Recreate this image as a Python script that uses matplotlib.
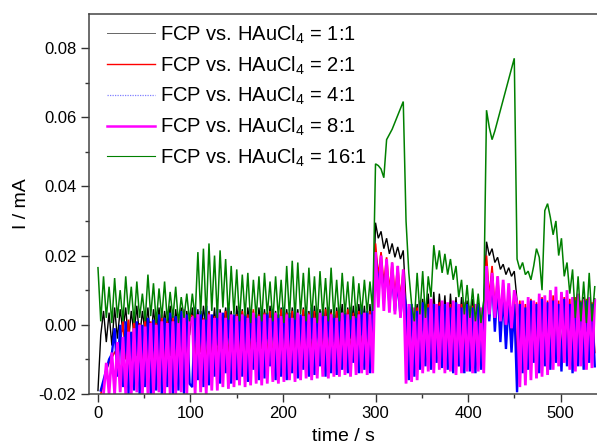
import numpy as np
import matplotlib
matplotlib.use("Agg")
import matplotlib.pyplot as plt

plt.rcParams['font.family'] = ['Liberation Sans', 'DejaVu Sans']
plt.rcParams['mathtext.fontset'] = 'custom'
plt.rcParams['mathtext.rm'] = 'Liberation Sans'
plt.rcParams['mathtext.it'] = 'Liberation Sans:italic'

# sample times (s), one reading every 3 s
time_s = np.arange(0, 540, 3)

# currents, in units of 1e-3 mA
nan = np.nan
ratio_1_1 = [
    -19, -3, 4, -5, 3.5, -6, 5, -4, 4.5, -2, 5, -5, 4, -3, 5.5, -4, 4, -2.5, 5, -5,
    4.5, -3, 5, -4, 4, -2, 5.5, -4.5, 4.5, -3, 5, -4, 4, -3,
    5, -3, 4.5, -5, 5.5, -2, 4, -4, 5, -6, 4.5, -3, 5, -2, 4, -5, 5.5, -3, 4.5, -4,
    5, -2.5, 4, -5, 5, -3, 4.5, -4, 5.5, -2, 4, -5, 5, -3, 4.5, -4, 5, -2, 4.5, -6,
    5, -3, 4, -4, 5.5, -2.5, 4.5, -4, 5, -3, 4.5, -5, 5, -2, 6, -3, 5, -4, 5.5, -2,
    6, -3, 5.5, -5, 6, -2,
    29.5, 25, 27, 22, 25, 20.5, 23.5, 19.5, 22.5, 19, 21.5,
    6, -3, 5, -2, 6, -4, 7.5, -1, 9, -2, 9.5, -3, 9, -1, 8.5, -4, 9, -2, 8, -3,
    8, -1, 7, -3, 7.5, -2, 6.5, -4, 6,
    24, 20, 22, 18, 19.5, 16, 17.5, 14.5, 16.5, 14, 15.5,
    7, -2, 6.5, -3, 7.5, -1, 6, -4, 8, -2, 7.5, -3, 8.5, -1, 8, -4, 9, -2, 8.5, -3,
    8, -1, 7.5, -4, 8, -2, 7, -3, 7.5,
]
ratio_2_1 = [
    nan, -20, -17, -13, -11, -9.5, -8, -7, -6, 1, -10, 1.5, -12, 2, -9, 0.5, -13, 2.5, -10, 1,
    -14, 2, -11, 3, -12, 1.5, -9, 2.5, -13, 3, -9, 2, -12, 3,
    2.5, -10, 3, -8, 2, -12, 3.5, -9, 2.5, -11, 3, -7, 4, -10, 2.5, -12, 3, -8, 4, -11,
    3, -9, 4.5, -12, 3, -7, 3.5, -10, 4, -11, 3, -8, 4.5, -12, 3.5, -9, 4, -10, 3, -7,
    4.5, -11, 3.5, -9, 4, -12, 3, -8, 4.5, -10, 3.5, -11, 4, -7, 3, -10, 4.5, -9, 3.5, -12,
    4, -8, 3, -10, 4, -9,
    23.5, 14, 21, 12, 19.5, 10, 18, 9, 17, 8, 16,
    2, -12, 4, -9, 5, -11, 5.5, -8, 6, -10, 5, -6, 6.5, -11, 5, -7, 6, -9, 5.5, -12,
    6, -8, 5, -10, 5.5, -9, 4.5, -11, 5,
    20, 8, 17, 5, 14, 2, 12, 0, 10.5, -2, 9,
    -12, 7, -9, 6, -11, 7.5, -8, 6.5, -10, 8, -7, 7, -11, 8.5, -9, 7, -10, 8, -6, 7.5,
    -11, 8, -8, 7, -10, 7.5, -9, 6.5, -8,
]
ratio_4_1 = [
    nan, -19, -16, -13, -10, -8.5, -1, -15, 0, -18, 1, -20, -2, -19, 1, -20, 0, -18, 2, -20,
    1.5, -19, 3, -20, 2, -18, 3.5, -20, 2.5, -19, 4, -20, 3, -17,
    -18, 5, -16, 4, -18, 5.5, -17.5, 3, -15, 4.5, -17, 3.5, -14, 5, -17, 3, -16, 4, -15, 3,
    -16.5, 4.5, -13, 3, -16, 4, -15.5, 3.5, -12, 4.5, -16, 3, -15, 5, -16, 3.5, -14, 4.5, -15.5, 3,
    -13, 4, -15, 5, -14.5, 3.5, -12, 4, -15, 5, -14, 3, -14.5, 4.5, -13, 3.5, -14, 5, -11, 4,
    -14, 5.5, -13, 4, -14, 5,
    20.5, 11, 18, 8, 16, 6, 14, 4, 12.5, 2.5, 11,
    5, -16, 6, -15, 4, -13, 6.5, -12, 5, -13, 6, -11, 5.5, -12.5, 6, -13, 5, -14, 6.5, -12,
    5, -14, 6, -13.5, 5, -14, 6, -13, 5,
    16, 1, 14, -2, 11, -5, 9, -7, 7, -8, 6,
    -19.5, 6, -14, 5, -13, 7, -11, 6, -14, 7.5, -12, 6.5, -13, 7, -11, 6, -13.5, 7.5, -12, 6,
    -14, 7, -12, 6.5, -13, 7, -11, 6, -12,
]
ratio_8_1 = [
    nan, nan, -20, -11, -20, -8, -20, -5, -19.5, -3.5, -20, -2, -20, -1, -19.5, 0, -20, -0.5, -20, 0.5,
    -20, 0, -19.5, 1, -20, 0.5, -20, 1, -20, 2, -19.5, 4.5, -20, 1.5,
    2, -20, 3, -19.5, 1.5, -20, 3, -19, 2, -19, 3.5, -18, 2, -18.5, 3, -18, 2.5, -17.5, 3, -18,
    2, -17.5, 3.5, -17, 2.5, -17.5, 3, -17, 2, -16.5, 3.5, -17, 2.5, -16.5, 3, -16, 2, -16.5, 3.5, -16,
    2.5, -15.5, 3, -16, 2, -15.5, 3.5, -15, 2.5, -15.5, 3, -15, 2, -15, 3.5, -14.5, 3, -15, 2.5, -14.5,
    3, -14, 3.5, -14.5, 3, -14,
    21, 5, 20, 4, 19, 3.5, 18, 3, 17, 2, 16,
    -17, 6, -16.5, 5, -16, 7, -14, 6, -13.5, 7.5, -14, 6, -13, 7, -14, 6.5, -13.5, 7, -14.5, 6,
    -14, 6.5, -13.5, 5.5, -14, 6, -13.5, 5, -14,
    17, 3, 15, 2, 14, 1, 13, 0, 12, -1, 10,
    6, -18, 7, -17.5, 8, -16, 7, -15.5, 9, -15, 8.5, -14.5, 10, -13, 11, -12, 9.5, -11, 10, -13,
    8, -13.5, 9, -12, 7.5, -13, 8, -12.5, 7,
]
ratio_16_1 = [
    16.5, 1, 14, 2, 11, 0.5, 13.5, 2, 10, 1, 14, 3, 11, 0.5, 12.5, 2, 9, 1, 14.5, 2.5,
    12, 0.5, 10.5, 2, 12.5, 1, 9.5, 2, 11, 0.5, 8, 2, 9, 1,
    9, 2, 21, 3, 22, 1.5, 23.5, 4, 20, 2, 21.5, 5, 19, 1.5, 17, 3, 16, 1, 14.5, 2.5,
    15, 0.5, 13, 2, 14, 1, 15, 3, 12.5, 1, 14, 2, 13, 0.5, 17, 2, 18.5, 1.5, 18, 3,
    15, 1, 16.5, 2, 14, 0.5, 15.5, 2.5, 13.5, 1, 16.5, 2, 13, 1, 15, 3, 12.5, 1.5, 14, 2,
    12, 3, 13, 3.5, 12.5, 4,
    46.5, 46, 45, 42.5, 53.5, 55, 56.5, 58.5, 60.5, 62.5, 64.5,
    30, 15, 6, 1, 15, 3, 15.5, 2, 14, 8, 23, 16, 21.5, 15, 20.5, 14.5, 19, 13, 17, 8,
    13, 3, 11.5, 2, 10.5, 1, 9, 0.5, 7,
    62, 57, 53.5, 56, 59, 62, 65, 68, 71, 74, 77,
    19, 16, 18, 14.5, 15.5, 13, 17, 22, 19.5, 10, 33, 35, 31, 26, 30, 20, 25, 14, 18, 9,
    16, 2, 14, 1, 12.5, 0.5, 15, 1, 11,
]

labels = ['FCP vs. HAuCl$_\\mathregular{4}$ = 1:1',
          'FCP vs. HAuCl$_\\mathregular{4}$ = 2:1',
          'FCP vs. HAuCl$_\\mathregular{4}$ = 4:1',
          'FCP vs. HAuCl$_\\mathregular{4}$ = 8:1',
          'FCP vs. HAuCl$_\\mathregular{4}$ = 16:1']
series = [ratio_1_1, ratio_2_1, ratio_4_1, ratio_8_1, ratio_16_1]
colors = ['#000000', '#ff0000', '#0000ff', '#ff00ff', '#008000']
widths = [1.0, 1.2, 1.7, 2.0, 1.1]

fig = plt.figure(figsize=(5.97, 4.46), dpi=100)
ax = fig.add_axes([89 / 597, 52 / 446, 509 / 597, 380 / 446])

for vals, lab, col, lw in zip(series, labels, colors, widths):
    ax.plot(time_s, np.array(vals) / 1000.0, color=col, lw=lw, label=lab,
            solid_joinstyle='miter')

ax.set_xlim(-9.7, 540.5)
ax.set_ylim(-0.02, 0.0898)
ax.set_xticks([0, 100, 200, 300, 400, 500])
ax.set_xticks(np.arange(50, 540, 100), minor=True)
ax.set_yticks([-0.02, 0.0, 0.02, 0.04, 0.06, 0.08])
ax.set_yticks([-0.01, 0.01, 0.03, 0.05, 0.07], minor=True)
ax.set_yticklabels(['-0.02', '0.00', '0.02', '0.04', '0.06', '0.08'])
ax.tick_params(which='major', direction='out', length=5.5, width=1, labelsize=12, color='#333333')
ax.tick_params(which='minor', direction='out', length=3.2, width=1, color='#333333')
for side in ['left', 'bottom', 'top']:
    ax.spines[side].set_color('#444444')
    ax.spines[side].set_linewidth(1.1)
ax.spines['right'].set_visible(False)

ax.set_xlabel('time / s', fontsize=14, labelpad=5)
ax.set_ylabel('I / mA', fontsize=14, labelpad=6)

leg = ax.legend(loc='upper left', bbox_to_anchor=(0.035, 0.975), frameon=False,
                fontsize=14.5, handlelength=2.4, handletextpad=0.25,
                labelspacing=0.42, borderpad=0, borderaxespad=0)
handle_lw = [0.7, 1.0, 0.9, 1.8, 0.8]
handle_alpha = [0.6, 1, 0.5, 1, 1]
for h, lw, a in zip(leg.get_lines(), handle_lw, handle_alpha):
    h.set_linewidth(lw)
    h.set_alpha(a)
leg.get_lines()[2].set_linestyle((0, (1, 1)))

fig.savefig('out.png', dpi=100)
